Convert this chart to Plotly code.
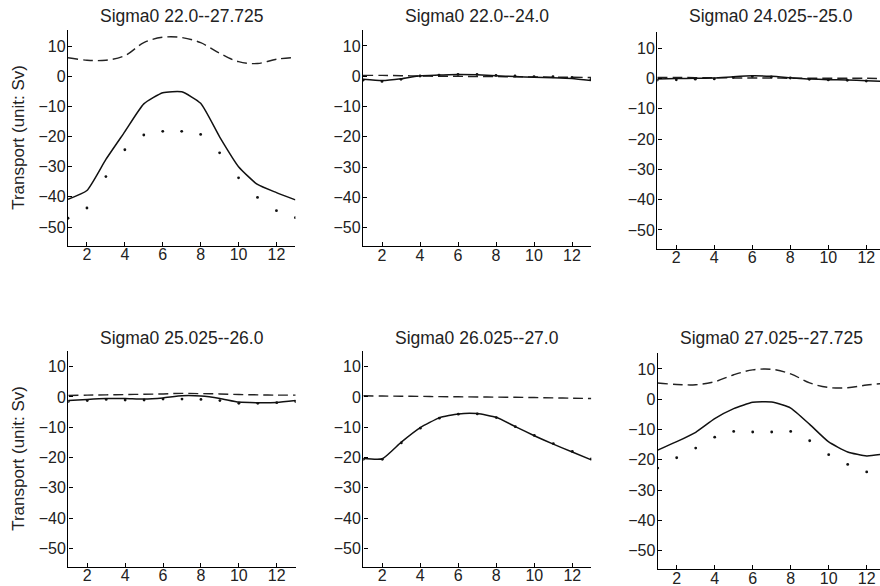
import plotly.graph_objects as go

months = list(range(1, 14))
titles = ["Sigma0 22.0--27.725", "Sigma0 22.0--24.0", "Sigma0 24.025--25.0",
          "Sigma0 25.025--26.0", "Sigma0 26.025--27.0", "Sigma0 27.025--27.725"]
x_ticks = [2, 4, 6, 8, 10, 12]
y_ticks = [-50, -40, -30, -20, -10, 0, 10]
y_title = "Transport (unit: Sv)"

p1_dash = [6.1, 5.3, 5.3, 6.8, 11.1, 12.9, 12.8, 11.1, 7.6, 4.8, 4.2, 5.6, 6.2]
p1_solid = [-40.8, -37.9, -27.6, -18.4, -9.2, -5.5, -5.2, -9.0, -20.1, -30.0, -35.9, -38.6, -41.0]
p1_dot = [-47.1, -43.7, -33.3, -24.4, -19.5, -18.3, -18.3, -19.3, -25.4, -33.7, -40.2, -44.6, -46.9]

p2_dash = [0.3, 0.3, 0.2, 0.1, 0.0, 0.0, -0.1, -0.1, -0.2, -0.2, -0.3, -0.3, -0.4]
p2_solid = [-1.0, -1.4, -0.8, 0.2, 0.4, 0.6, 0.5, 0.2, -0.1, -0.3, -0.45, -0.7, -1.4]
p2_dot = [-1.3, -1.7, -1.0, 0.1, 0.4, 0.6, 0.6, 0.3, 0.1, -0.1, -0.15, -0.4, -1.0]

p3_dash = [0.4, 0.4, 0.3, 0.3, 0.2, 0.2, 0.2, 0.1, 0.1, 0.1, 0.1, 0.1, 0.0]
p3_solid = [-0.15, 0.0, 0.1, 0.2, 0.6, 0.9, 0.75, 0.3, -0.15, -0.35, -0.45, -0.7, -0.9]
p3_dot = [-0.5, -0.4, -0.2, -0.1, 0.4, 0.7, 0.55, 0.2, -0.25, -0.45, -0.55, -0.8, -0.9]

p4_dash = [0.5, 0.6, 0.7, 0.8, 0.9, 1.0, 1.2, 1.1, 1.0, 0.8, 0.7, 0.6, 0.6]
p4_solid = [-1.2, -0.8, -0.5, -0.5, -0.7, -0.3, 0.4, 0.3, -0.5, -1.7, -1.9, -1.8, -1.2]
p4_dot = [-1.5, -1.2, -0.8, -1.0, -1.0, -0.7, -0.7, -0.8, -1.2, -2.1, -2.1, -1.9, -1.5]

p5_dash = [0.4, 0.3, 0.25, 0.2, 0.1, 0.05, 0.0, -0.05, -0.1, -0.2, -0.3, -0.4, -0.5]
p5_solid = [-20.3, -20.4, -14.9, -10.1, -6.9, -5.6, -5.5, -6.7, -9.8, -12.8, -15.6, -18.2, -20.8]
p5_dot = [-20.6, -20.6, -15.2, -10.3, -7.0, -5.7, -5.6, -6.8, -9.8, -12.7, -15.4, -18.0, -20.5]

p6_dash = [5.4, 4.9, 4.8, 5.8, 8.1, 9.7, 9.9, 8.4, 5.4, 3.9, 3.8, 4.7, 5.3]
p6_solid = [-16.8, -14.0, -10.9, -6.4, -3.1, -1.0, -0.9, -2.9, -8.3, -14.1, -17.4, -18.7, -18.0]
p6_dot = [-22.7, -19.3, -16.1, -12.5, -10.6, -10.8, -10.8, -10.6, -13.7, -18.3, -21.5, -24.0, -23.3]

panels = [(p1_dash, p1_solid, p1_dot), (p2_dash, p2_solid, p2_dot), (p3_dash, p3_solid, p3_dot),
          (p4_dash, p4_solid, p4_dot), (p5_dash, p5_solid, p5_dot), (p6_dash, p6_solid, p6_dot)]

W, H = 880, 586
Y_LO, Y_HI = -56.2, 15.3
# pixel geometry per panel: x of month 1, px per month, y px of 10, y px of -50
geom = [
    (68.0, 18.95, 46.0, 227.0),
    (363.0, 19.0, 46.0, 227.7),
    (657.3, 19.0, 48.3, 230.0),
    (68.3, 18.95, 366.7, 548.3),
    (363.3, 19.0, 366.7, 548.3),
    (657.7, 19.0, 369.0, 550.7),
]
title_y = [16, 16, 16, 337.5, 337.5, 337.5]

fig = go.Figure()
annotations = []
font_family = "Liberation Sans, Arial, Helvetica, sans-serif"

for i, ((dash, solid, dot), (x1, ppx, y10, ym50)) in enumerate(zip(panels, geom)):
    n = i + 1
    xa = "x" if n == 1 else f"x{n}"
    ya = "y" if n == 1 else f"y{n}"
    x13 = x1 + 12 * ppx
    right = min(x13, W)
    xmax = 1 + (right - x1) / ppx
    ppu = (ym50 - y10) / 60.0
    top = y10 - (Y_HI - 10) * ppu
    bot = ym50 + (-50 - Y_LO) * ppu

    fig.add_trace(go.Scatter(x=months, y=dash, mode="lines", xaxis=xa, yaxis=ya,
                             line=dict(color="#222", width=1.4, dash="10px,5px", shape="spline", smoothing=1.0),
                             showlegend=False))
    fig.add_trace(go.Scatter(x=months, y=solid, mode="lines", xaxis=xa, yaxis=ya,
                             line=dict(color="#111", width=1.5, shape="spline", smoothing=0.5),
                             showlegend=False))
    fig.add_trace(go.Scatter(x=months, y=dot, mode="markers", xaxis=xa, yaxis=ya,
                             marker=dict(color="#111", size=2.8), showlegend=False))

    axis_common = dict(showline=True, linecolor="black", linewidth=1.4, showgrid=False,
                       zeroline=False, ticks="inside", ticklen=4, tickwidth=1, tickcolor="black",
                       tickfont=dict(family=font_family, size=16, color="#222"))
    fig.layout[f"xaxis{n if n > 1 else ''}"] = dict(
        domain=[x1 / W, right / W], range=[1, xmax], anchor=ya, tickvals=x_ticks,
        ticklabelstandoff=-6, **axis_common)
    fig.layout[f"yaxis{n if n > 1 else ''}"] = dict(
        domain=[1 - bot / H, 1 - top / H], range=[Y_LO, Y_HI], anchor=xa, tickvals=y_ticks,
        ticklabelstandoff=-2, **axis_common)

    annotations.append(dict(text=titles[i], x=(x1 + x13) / 2 / W, y=1 - title_y[i] / H,
                            xref="paper", yref="paper", showarrow=False, xanchor="center",
                            yanchor="middle", font=dict(family=font_family, size=17.5, color="#222")))
    if i % 3 == 0:
        annotations.append(dict(text=y_title, x=19 / W, y=1 - (top + bot) / 2 / H,
                                xref="paper", yref="paper", showarrow=False, textangle=-90,
                                xanchor="center", yanchor="middle",
                                font=dict(family=font_family, size=17, color="#222")))

fig.update_layout(width=W, height=H, margin=dict(l=0, r=0, t=0, b=0),
                  paper_bgcolor="white", plot_bgcolor="white", annotations=annotations)

fig.write_html("out.html")
